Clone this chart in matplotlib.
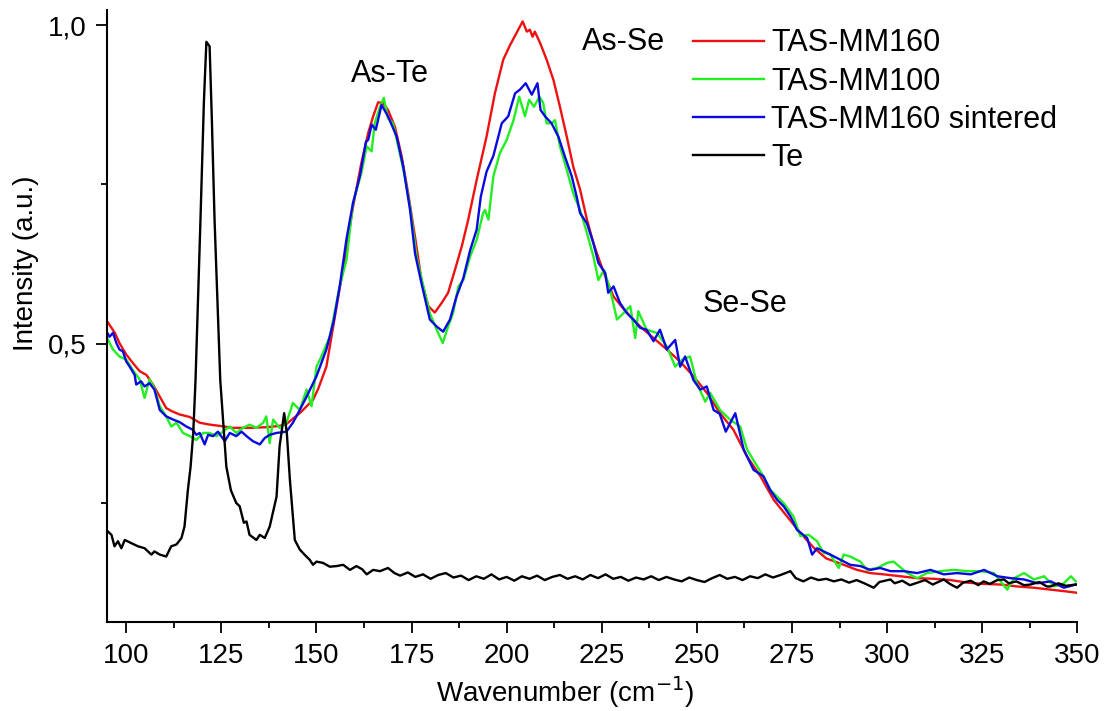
import matplotlib.pyplot as plt
from matplotlib.ticker import MultipleLocator, FuncFormatter

plt.rcParams['font.family'] = ['Liberation Sans', 'DejaVu Sans']

# TAS-MM160 (red)
x_mm160 = [95, 97, 98.2, 100, 101.7, 103.5, 105.3, 107, 108.8, 110.5, 112, 114, 116.7, 119.3,
           122, 124.6, 128, 132.4, 136.8, 140.3, 142.1, 145.6, 149.1, 150.5, 152.6, 155.3, 157.4,
           159.6, 161.8, 163.6, 164.9, 166.2, 167.5, 168.8, 170.6, 172.4, 174.1, 175.9, 177.6,
           179.4, 181.1, 182.9, 184.6, 186.4, 188.2, 189.9, 192.1, 194.7, 196.9, 199.1, 200.9,
           202.6, 204.2, 205.3, 206.1, 206.8, 207.4, 208.8, 210.5, 212.3, 214, 215.8, 217.5,
           219.3, 221.1, 222.8, 224.6, 226.3, 228.1, 230.7, 233.3, 235.1, 238.6, 242.1, 245.6,
           249.1, 252.6, 256.1, 259.6, 263.2, 266.7, 270.2, 273.7, 277.2, 280.7, 284, 288.6,
           292.1, 295.6, 299.1, 303.5, 307.9, 312.3, 316.7, 321.1, 325.4, 329.8, 334.2, 338.6,
           343, 347.4, 350]
y_mm160 = [0.535, 0.517, 0.501, 0.483, 0.470, 0.457, 0.451, 0.436, 0.417, 0.399, 0.394, 0.389,
           0.385, 0.376, 0.373, 0.371, 0.368, 0.368, 0.369, 0.371, 0.374, 0.391, 0.412, 0.430,
           0.464, 0.559, 0.632, 0.715, 0.784, 0.831, 0.857, 0.879, 0.878, 0.867, 0.841, 0.794,
           0.736, 0.668, 0.600, 0.559, 0.549, 0.564, 0.580, 0.616, 0.653, 0.695, 0.757, 0.825,
           0.893, 0.946, 0.969, 0.988, 1.006, 0.990, 0.993, 0.982, 0.990, 0.972, 0.946, 0.914,
           0.872, 0.825, 0.778, 0.742, 0.695, 0.658, 0.627, 0.600, 0.574, 0.555, 0.538, 0.527,
           0.509, 0.491, 0.472, 0.449, 0.423, 0.391, 0.365, 0.323, 0.292, 0.255, 0.229, 0.203,
           0.180, 0.163, 0.153, 0.145, 0.140, 0.138, 0.135, 0.132, 0.131, 0.129, 0.125, 0.123,
           0.122, 0.119, 0.117, 0.114, 0.111, 0.109]

# TAS-MM100 (green)
x_mm100 = [94.8, 96.5, 98.2, 100, 101.7, 103.5, 104.8, 106.1, 107.4, 108.8, 110.5, 111.8, 113.2,
           114.9, 116.7, 118.4, 120.2, 121.9, 123.7, 125.4, 127.2, 128.9, 130.7, 132.4, 134.2,
           136, 136.8, 137.7, 138.6, 140.3, 142.1, 143.8, 145.6, 147.4, 148.7, 150, 150.9, 153.5,
           156.1, 157.9, 159.6, 161.8, 163.2, 164.5, 165.3, 166.7, 167.7, 168.8, 170.1, 171.9,
           173.2, 174.6, 176.3, 178.1, 179.8, 181.6, 183.2, 184.6, 185.9, 187.3, 188.6, 190.4,
           192.1, 193.8, 194.3, 195.2, 196.5, 198.2, 200, 201.8, 203.3, 204.8, 205.9, 207.2,
           208.6, 209.6, 210.5, 211.8, 212.7, 214, 215.8, 217.5, 219.3, 221.1, 222.8, 224.1,
           225.6, 227.2, 229, 230.7, 232.5, 233.8, 234.6, 236.8, 239.5, 242.1, 244.3, 246.1,
           248.2, 250, 252.2, 253.5, 256.1, 258.7, 261.4, 263.2, 265.3, 267.5, 269.3, 271.1,
           272.8, 275.4, 277.2, 279.4, 281.6, 283.3, 285.1, 287.3, 288.6, 290.3, 293, 294.7,
           297.4, 300, 301.7, 305.3, 307.9, 310.5, 314, 317.5, 321.1, 324.6, 328.1, 331.6,
           333.4, 336, 338.6, 341.3, 343.9, 346.5, 348.3, 349.6]
y_mm100 = [0.511, 0.491, 0.480, 0.475, 0.459, 0.444, 0.415, 0.444, 0.430, 0.402, 0.386, 0.370,
           0.376, 0.360, 0.355, 0.349, 0.360, 0.360, 0.355, 0.362, 0.370, 0.360, 0.368, 0.373,
           0.368, 0.376, 0.386, 0.344, 0.381, 0.368, 0.376, 0.407, 0.396, 0.428, 0.402, 0.464,
           0.475, 0.511, 0.590, 0.632, 0.721, 0.768, 0.810, 0.802, 0.846, 0.872, 0.886, 0.854,
           0.846, 0.799, 0.763, 0.715, 0.637, 0.590, 0.548, 0.522, 0.501, 0.527, 0.548, 0.590,
           0.600, 0.637, 0.663, 0.705, 0.710, 0.695, 0.763, 0.799, 0.820, 0.851, 0.888, 0.857,
           0.883, 0.872, 0.888, 0.878, 0.846, 0.846, 0.851, 0.810, 0.773, 0.736, 0.710, 0.674,
           0.637, 0.600, 0.616, 0.585, 0.538, 0.548, 0.559, 0.509, 0.551, 0.522, 0.517, 0.496,
           0.464, 0.475, 0.480, 0.438, 0.409, 0.423, 0.396, 0.381, 0.370, 0.334, 0.313, 0.292,
           0.271, 0.260, 0.250, 0.229, 0.198, 0.200, 0.190, 0.172, 0.169, 0.148, 0.169, 0.166,
           0.158, 0.145, 0.148, 0.156, 0.158, 0.140, 0.132, 0.140, 0.143, 0.145, 0.143, 0.143,
           0.140, 0.114, 0.132, 0.140, 0.130, 0.135, 0.119, 0.124, 0.135, 0.127]

# TAS-MM160 sintered (blue)
x_sint = [94.8, 95.6, 96.5, 97.4, 98.2, 99.1, 100, 100.9, 102.2, 102.6, 103.9, 104.8, 106.1,
          107.4, 108.8, 110.5, 112.3, 114, 115.8, 117.5, 118.4, 119.3, 120.6, 121.5, 122.8,
          124.1, 125.9, 127.2, 128.9, 130.3, 131.6, 133.3, 135.1, 136.4, 137.7, 139.5, 142.1,
          143.8, 145.6, 147.4, 150, 152.6, 154.5, 156.1, 157.9, 159.6, 161.4, 163, 163.6, 164.5,
          165.6, 167.1, 168.8, 171.1, 172.8, 174.6, 175.9, 177.6, 179.8, 181.6, 183.3, 185.1,
          186.8, 188.6, 190.4, 192.1, 193.2, 194.7, 196.5, 198.7, 200.4, 202.2, 203.5, 205,
          206.6, 208.1, 208.9, 210.1, 211.8, 213.6, 215.3, 217.1, 218.4, 219.3, 221.1, 222.8,
          224.1, 225.9, 226.7, 228.1, 229.8, 231.6, 233.3, 235.1, 236.8, 238.6, 240.3, 242.1,
          244.3, 245.6, 246.9, 249.1, 250.9, 252.6, 254.4, 256, 257.6, 260.1, 262.3, 264.9,
          267.5, 269.3, 271.1, 272.8, 274.6, 276.3, 279, 280.3, 281.6, 285.1, 287.7, 290.3, 293,
          295.6, 298.2, 300.9, 304.4, 307.9, 311.4, 314.9, 318.4, 322, 325.5, 329, 332.5, 336,
          339.5, 343, 346.5, 349.6]
y_sint = [0.519, 0.511, 0.517, 0.501, 0.491, 0.488, 0.472, 0.464, 0.451, 0.436, 0.441, 0.433,
          0.438, 0.428, 0.396, 0.386, 0.381, 0.377, 0.370, 0.365, 0.357, 0.360, 0.342, 0.357,
          0.355, 0.362, 0.347, 0.360, 0.355, 0.362, 0.355, 0.347, 0.342, 0.352, 0.357, 0.360,
          0.362, 0.376, 0.396, 0.417, 0.449, 0.491, 0.535, 0.590, 0.665, 0.721, 0.763, 0.817,
          0.820, 0.844, 0.836, 0.875, 0.857, 0.825, 0.778, 0.710, 0.642, 0.595, 0.538, 0.527,
          0.519, 0.538, 0.574, 0.603, 0.647, 0.679, 0.731, 0.770, 0.795, 0.846, 0.857, 0.893,
          0.899, 0.909, 0.891, 0.909, 0.867, 0.857, 0.846, 0.825, 0.794, 0.763, 0.731, 0.705,
          0.689, 0.658, 0.627, 0.611, 0.580, 0.590, 0.564, 0.548, 0.538, 0.525, 0.522, 0.504,
          0.522, 0.491, 0.506, 0.464, 0.480, 0.443, 0.428, 0.433, 0.396, 0.390, 0.362, 0.391,
          0.334, 0.302, 0.292, 0.270, 0.255, 0.245, 0.229, 0.208, 0.195, 0.169, 0.179, 0.169,
          0.161, 0.153, 0.151, 0.145, 0.148, 0.143, 0.143, 0.140, 0.145, 0.138, 0.140, 0.138,
          0.145, 0.135, 0.132, 0.130, 0.124, 0.127, 0.117, 0.122]

# Te (black)
x_te = [95.2, 96.1, 96.9, 97.8, 98.7, 99.6, 101.3, 103.1, 104.8, 106.6, 107.4, 108.8, 110.5,
        111.8, 113.2, 114.5, 115.3, 116.2, 116.9, 117.6, 118.2, 119.5, 120.4, 121.05, 121.9,
        122.5, 123.2, 124.7, 126.3, 127.5, 128.9, 129.8, 130.9, 131.6, 132.4, 134.2, 135.1,
        136.4, 137.7, 139.5, 140.3, 141.5, 142.2, 143, 144.3, 145.6, 147, 148.2, 149.1, 150,
        151.7, 153.5, 155.3, 157, 158.8, 160.5, 162, 163.2, 164.9, 166.7, 168.8, 170.5, 172,
        174, 176, 178, 180, 182, 184, 186, 188, 190, 192, 194, 196, 198, 200, 202, 204, 206,
        208, 210, 212, 214, 216, 218, 220, 222, 224, 226, 228, 230, 232, 234, 236, 238, 240,
        242, 244, 246, 248, 250, 252, 254, 256, 258, 260, 262, 264, 266, 268, 270, 272, 274.6,
        276, 278, 280, 282, 284, 286, 288, 290, 292, 294, 296.5, 298, 300.9, 302, 304, 306,
        308, 310, 312, 314.9, 316.5, 318.4, 320, 322, 324, 325.4, 327, 329, 330.7, 332, 334,
        336, 337.7, 340, 342, 343, 345, 347, 349.6]
y_te = [0.205, 0.200, 0.182, 0.190, 0.179, 0.192, 0.187, 0.182, 0.179, 0.169, 0.174, 0.169,
        0.166, 0.182, 0.185, 0.195, 0.213, 0.271, 0.307, 0.360, 0.443, 0.695, 0.880, 0.974,
        0.967, 0.850, 0.695, 0.443, 0.307, 0.270, 0.250, 0.245, 0.219, 0.221, 0.200, 0.192,
        0.200, 0.195, 0.213, 0.260, 0.339, 0.391, 0.360, 0.287, 0.192, 0.177, 0.168, 0.161,
        0.153, 0.158, 0.156, 0.150, 0.151, 0.153, 0.145, 0.151, 0.146, 0.138, 0.145, 0.143,
        0.148, 0.140, 0.136, 0.141, 0.134, 0.138, 0.131, 0.137, 0.140, 0.133, 0.136, 0.129,
        0.135, 0.131, 0.138, 0.130, 0.134, 0.128, 0.135, 0.131, 0.136, 0.129, 0.134, 0.137,
        0.131, 0.135, 0.130, 0.137, 0.132, 0.138, 0.131, 0.134, 0.128, 0.133, 0.130, 0.135,
        0.129, 0.134, 0.130, 0.127, 0.133, 0.129, 0.126, 0.132, 0.137, 0.131, 0.134, 0.129,
        0.135, 0.132, 0.138, 0.133, 0.137, 0.143, 0.132, 0.127, 0.133, 0.129, 0.131, 0.127,
        0.130, 0.125, 0.129, 0.124, 0.117, 0.126, 0.130, 0.124, 0.128, 0.121, 0.125, 0.129,
        0.122, 0.130, 0.123, 0.117, 0.125, 0.128, 0.121, 0.127, 0.123, 0.129, 0.130, 0.124,
        0.127, 0.121, 0.122, 0.126, 0.119, 0.119, 0.124, 0.120, 0.122]

fig = plt.figure(figsize=(11.06, 7.11), dpi=100)
ax = fig.add_axes([0.097, 0.125, 0.877, 0.861])

ax.plot(x_mm160, y_mm160, color='#ee1111', lw=1.7, label='TAS-MM160')
ax.plot(x_mm100, y_mm100, color='#22ee22', lw=1.7, label='TAS-MM100')
ax.plot(x_sint, y_sint, color='#0a0ae0', lw=1.7, label='TAS-MM160 sintered')
ax.plot(x_te, y_te, color='black', lw=1.7, label='Te')

ax.set_xlim(95, 350)
ax.set_ylim(0.063, 1.024)

for s in ['top', 'right']:
    ax.spines[s].set_visible(False)
for s in ['left', 'bottom']:
    ax.spines[s].set_linewidth(1.5)

ax.xaxis.set_major_locator(MultipleLocator(25))
ax.xaxis.set_minor_locator(MultipleLocator(12.5))
ax.yaxis.set_major_locator(MultipleLocator(0.5))
ax.yaxis.set_minor_locator(MultipleLocator(0.25))
ax.yaxis.set_major_formatter(FuncFormatter(lambda v, p: f'{v:.1f}'.replace('.', ',')))
ax.tick_params(which='major', direction='out', length=8, width=1.3, labelsize=20, pad=7)
ax.tick_params(which='minor', direction='out', length=4.5, width=1.3)

ax.set_xlabel('Wavenumber (cm$^{-1}$)', fontsize=20)
ax.set_ylabel('Intensity (a.u.)', fontsize=20)
ax.xaxis.set_label_coords(0.472, -0.085)
ax.yaxis.set_label_coords(-0.07, 0.587)

ax.text(169.3, 0.924, 'As-Te', fontsize=22, ha='center', va='center')
ax.text(230.7, 0.974, 'As-Se', fontsize=22, ha='center', va='center')
ax.text(262.7, 0.563, 'Se-Se', fontsize=22, ha='center', va='center')

ax.legend(loc='upper left', bbox_to_anchor=(0.627, 0.960), bbox_transform=fig.transFigure,
          frameon=False, fontsize=22, handlelength=2.3, handletextpad=0.25,
          labelspacing=0.27, borderpad=0, borderaxespad=0)

fig.savefig('out.png', dpi=100)
